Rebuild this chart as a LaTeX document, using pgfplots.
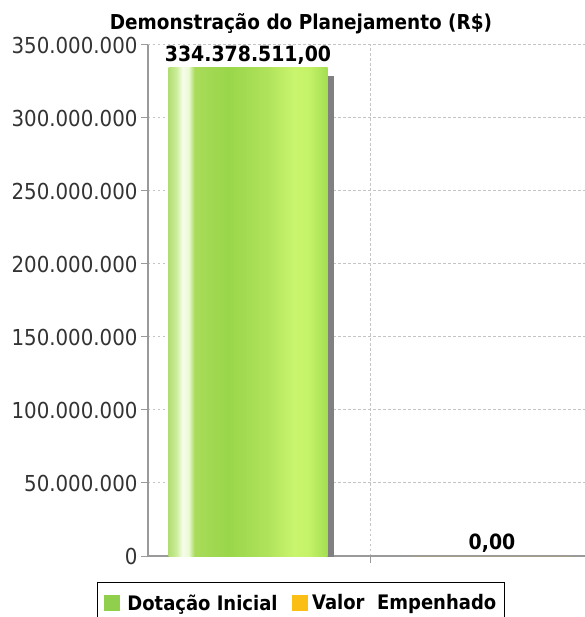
\documentclass[border=0pt]{standalone}
\usepackage{fontspec}
\setmainfont{DejaVu Sans Condensed}
\usepackage{pgfplots}
\pgfplotsset{compat=1.18}

\definecolor{barShadow}{HTML}{808080}
\definecolor{legGreen}{HTML}{8FCF4C}
\definecolor{legOrange}{HTML}{FBBE14}
\definecolor{gridGray}{HTML}{C4C4C4}
\definecolor{axisGray}{HTML}{9A9A9A}
\definecolor{tickText}{HTML}{333333}

% bar occupies 25bp..75bp of the shading
\pgfdeclarehorizontalshading{barshade}{100bp}{
  rgb(0bp)=(0.70,0.87,0.45);
  rgb(25bp)=(0.70,0.87,0.45);
  rgb(27.5bp)=(0.80,0.93,0.60);
  rgb(29.4bp)=(0.97,0.99,0.92);
  rgb(31.3bp)=(0.92,0.98,0.84);
  rgb(33.2bp)=(0.66,0.86,0.35);
  rgb(43.9bp)=(0.60,0.84,0.29);
  rgb(56.4bp)=(0.69,0.89,0.36);
  rgb(64.3bp)=(0.79,0.96,0.43);
  rgb(69bp)=(0.77,0.95,0.41);
  rgb(75bp)=(0.64,0.87,0.32);
  rgb(100bp)=(0.64,0.87,0.32)}

\begin{document}
\begin{tikzpicture}
\path[use as bounding box] (-148pt,-61pt) rectangle (436pt,556pt);
\begin{axis}[
    at={(0,0)}, anchor=south west,
    scale only axis,
    width=444pt, height=511pt,
    xmin=-0.41, xmax=1.41,
    ymin=0, ymax=350000000,
    enlargelimits=false,
    axis x line*=bottom, axis y line*=left,
    axis line style={axisGray, line width=1.5pt, -},
    tick style={axisGray, line width=1pt},
    tick align=outside, major tick length=7pt,
    xtick={0.5}, xticklabels={},
    ytick={0,50000000,100000000,150000000,200000000,250000000,300000000,350000000},
    yticklabels={0,50.000.000,100.000.000,150.000.000,200.000.000,250.000.000,300.000.000,350.000.000},
    scaled y ticks=false,
    yticklabel style={font=\fontsize{22}{26}\selectfont, text=tickText},
    grid=major,
    major grid style={gridGray, dash pattern=on 2.5pt off 2.5pt, line width=1pt},
    title={Demonstração do Planejamento (R\$)},
    title style={at={(0.3446,1)}, anchor=base, yshift=9pt, font=\fontsize{20.5}{24}\selectfont\bfseries},
    every node near coord/.append style={font=\fontsize{21}{25}\selectfont\bfseries, text=black},
    legend columns=2,
    legend style={at={(0.3446,-0.0509)}, anchor=north, draw=black, line width=1.2pt,
        inner xsep=6pt, inner ysep=10pt,
        font=\fontsize{20}{24}\selectfont\bfseries,
        /tikz/every even column/.append style={column sep=12pt}},
]
% shadow behind the first bar
\addplot[ybar, bar width=159pt, bar shift=6pt, fill=barShadow, draw=none, yshift=-8pt, forget plot]
    coordinates {(0,334378511)};
% Dotação Inicial
\addplot[ybar, bar width=159pt, bar shift=0pt, shading=barshade, draw=none, forget plot,
    nodes near coords={334.378.511,00}]
    coordinates {(0,334378511)};
% Valor Empenhado
\addplot[ybar, bar width=159pt, bar shift=0pt, fill=legOrange, draw=none, forget plot,
    nodes near coords={0,00}]
    coordinates {(1,0)};

\addlegendimage{legend image code/.code={\fill[legGreen] (0pt,-7.5pt) rectangle (15pt,7.5pt); \path[draw=none, fill=none] (0pt,0pt) -- (21pt,0pt);}}
\addlegendentry{Dotação Inicial}
\addlegendimage{legend image code/.code={\fill[legOrange] (0pt,-7.5pt) rectangle (15pt,7.5pt); \path[draw=none, fill=none] (0pt,0pt) -- (18pt,0pt);}}
\addlegendentry{Valor\ \ Empenhado}
\end{axis}
\end{tikzpicture}
\end{document}
